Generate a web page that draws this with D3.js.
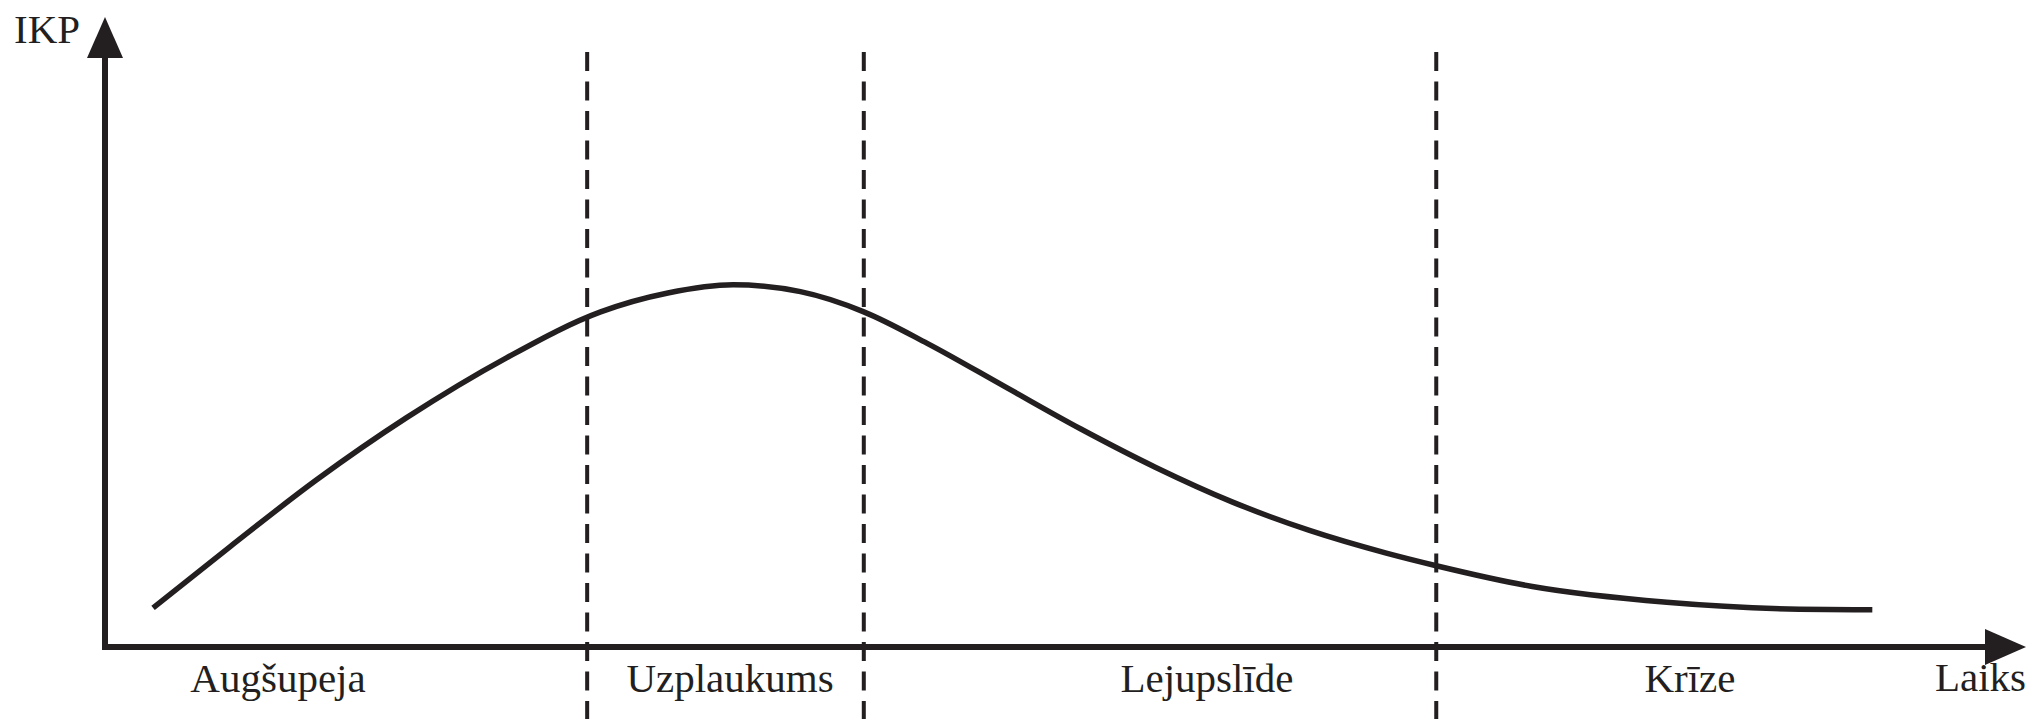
<!DOCTYPE html>
<html>
<head>
<meta charset="utf-8">
<script src="https://cdn.jsdelivr.net/npm/d3@7"></script>
<style>
  html, body { margin: 0; padding: 0; background: #fff; }
  svg { display: block; }
  text { font-family: "Liberation Serif", "DejaVu Serif", serif; fill: #231f20; }
</style>
</head>
<body>
<svg id="chart" width="2033" height="719"></svg>
<script>
// Business cycle: GDP over time, split into four phases
const phaseNames = ["Augšupeja", "Uzplaukums", "Lejupslīde", "Krīze"];
const phaseBounds = [0, 25.1, 39.5, 69.3, 100];   // time where each phase starts / ends
const curveTime = [2.5, 6.5, 11.0, 15.7, 20.9, 25.8, 29.3, 32.7, 36.2, 39.5, 42.8, 46.8, 50.8,
  54.7, 58.7, 62.7, 66.7, 69.3, 74.3, 81.3, 88.2, 92.0];
const curveGdp = [6.2, 15.9, 26.5, 36.4, 45.9, 53.2, 56.2, 57.5, 56.4, 53.2, 48.2, 41.4, 34.6,
  28.5, 23.0, 18.5, 14.9, 12.9, 9.6, 7.1, 6.0, 5.9];
const yAxisLabel = "IKP";
const xAxisLabel = "Laiks";

const ink = "#231f20";
const svg = d3.select("#chart");

const x = d3.scaleLinear().domain([0, 100]).range([105, 2026]);
const y = d3.scaleLinear().domain([0, 100]).range([647, 17]);

const arrowLen = 41, arrowHalf = 18;

// phase boundaries (dashed verticals)
svg.append("g")
  .selectAll("line")
  .data(phaseBounds.slice(1, -1))
  .join("line")
  .attr("x1", d => x(d)).attr("x2", d => x(d))
  .attr("y1", 52).attr("y2", 719)
  .attr("stroke", ink)
  .attr("stroke-width", 4)
  .attr("stroke-dasharray", "19 10.5");

// axes
const axes = svg.append("g");
axes.append("line")
  .attr("x1", x(0)).attr("x2", x(0))
  .attr("y1", y(0) + 3).attr("y2", y(100) + arrowLen - 2)
  .attr("stroke", ink).attr("stroke-width", 6);
axes.append("line")
  .attr("x1", x(0) - 3).attr("x2", x(100) - arrowLen + 2)
  .attr("y1", y(0)).attr("y2", y(0))
  .attr("stroke", ink).attr("stroke-width", 6);

// arrowheads at the far end of each axis
axes.append("path")
  .attr("d", `M${x(0)},${y(100)} L${x(0) + arrowHalf},${y(100) + arrowLen} L${x(0) - arrowHalf},${y(100) + arrowLen} Z`)
  .attr("fill", ink);
axes.append("path")
  .attr("d", `M${x(100)},${y(0)} L${x(100) - arrowLen},${y(0) - arrowHalf} L${x(100) - arrowLen},${y(0) + arrowHalf} Z`)
  .attr("fill", ink);

// GDP curve
const pts = curveTime.map((t, i) => [t, curveGdp[i]]);
svg.append("path")
  .datum(pts)
  .attr("d", d3.line().x(d => x(d[0])).y(d => y(d[1])).curve(d3.curveMonotoneX))
  .attr("fill", "none")
  .attr("stroke", ink)
  .attr("stroke-width", 5.5)
  .attr("stroke-linecap", "butt");

// phase labels, centred in their intervals
const labelCenters = [278, 730, 1207, 1690].map(px => x.invert(px));
svg.append("g")
  .selectAll("text")
  .data(phaseNames)
  .join("text")
  .attr("x", (d, i) => x(labelCenters[i]))
  .attr("y", 692)
  .attr("text-anchor", "middle")
  .attr("font-size", 41)
  .text(d => d);

// axis titles
svg.append("text")
  .attr("x", 14).attr("y", 43)
  .attr("font-size", 41)
  .text(yAxisLabel);
svg.append("text")
  .attr("x", x(100)).attr("y", 691)
  .attr("text-anchor", "end")
  .attr("font-size", 41)
  .text(xAxisLabel);
</script>
</body>
</html>
